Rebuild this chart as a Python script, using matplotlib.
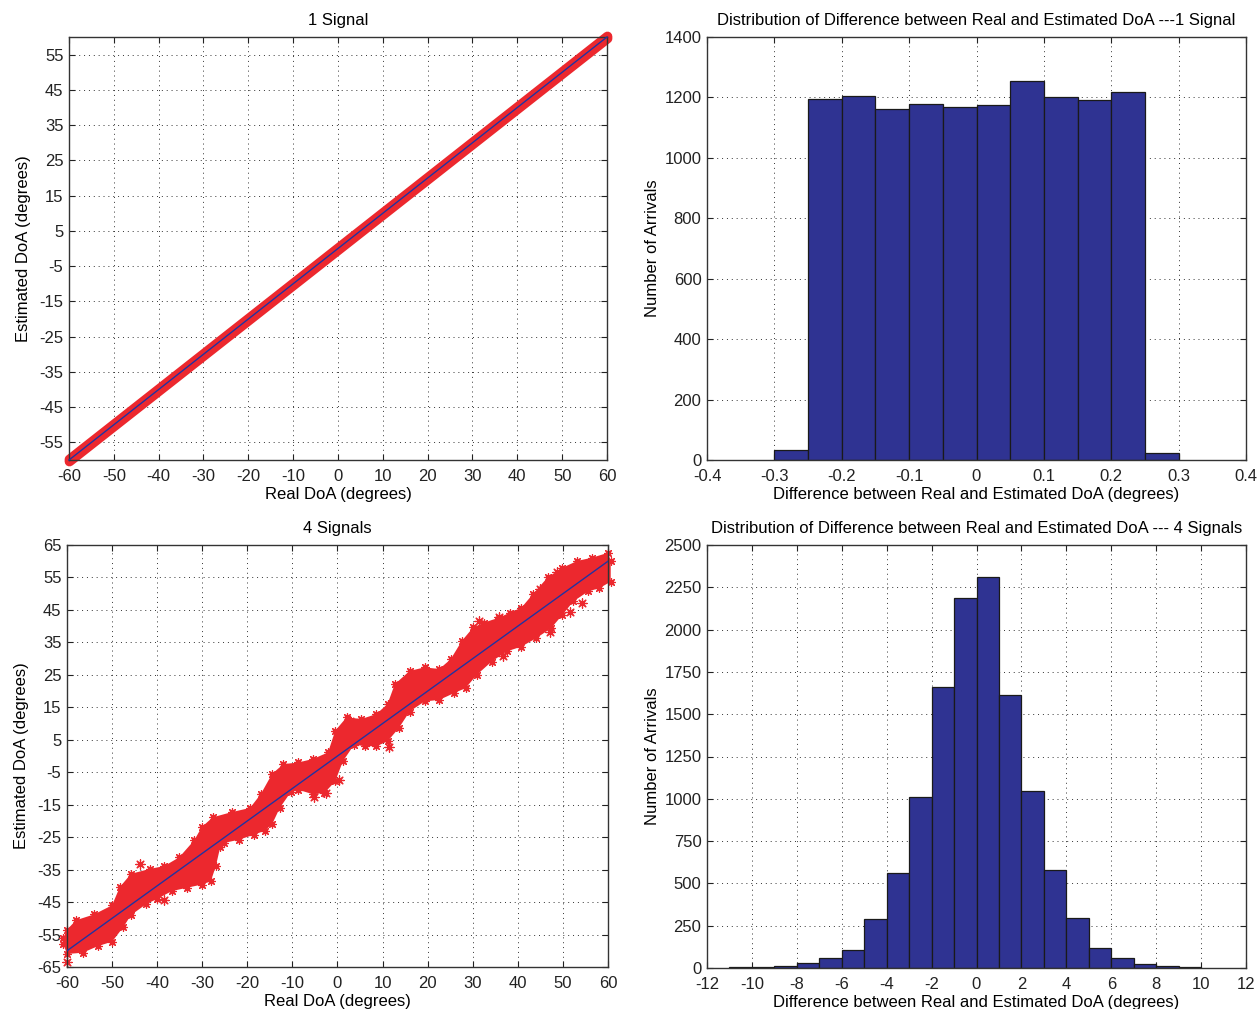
import numpy as np
import matplotlib
matplotlib.use("Agg")
import matplotlib.pyplot as plt

plt.rcParams['font.family'] = ['Liberation Sans', 'DejaVu Sans']
plt.rcParams['axes.unicode_minus'] = False

# ---------------- data ----------------
# 1 signal: real vs estimated DoA (band is very tight along y = x)
real_doa_1 = [-60, 60]
est_doa_1 = [-60, 60]
band_half_width_1 = 0.3

# 4 signals: envelope of the scatter cloud
upper_x_4 = [-60.8, -60, -58, -54, -50, -48.3, -45.8, -41.7, -38.4, -35.1, -31.8, -30.1,
             -27.7, -23.5, -19.4, -17, -14.5, -12, -8.7, -5.4, -2.1, -0.5, 2, 5.3, 8.6,
             11.1, 12.7, 16, 19.3, 22.6, 25.1, 27.6, 30.1, 32.5, 35.8, 38.3, 40.8, 43.3,
             46.6, 49.9, 53.2, 56.5, 60, 60.6]
upper_y_4 = [-56, -53.5, -50.6, -48.8, -46, -40.4, -36.3, -34.8, -33.9, -31.2, -26, -21.9,
             -18.9, -17.3, -16, -11.7, -5.5, -2.5, -2.0, -0.9, 1.1, 7.8, 11.9, 11.4, 12.9,
             16, 22.1, 26.2, 27.3, 26.8, 29.8, 35.5, 39.6, 41.1, 42.6, 44.2, 45.7, 49.8,
             55, 58, 60.1, 61.1, 62.6, 60]
lower_x_4 = [-60.8, -60, -56.5, -53.2, -50, -47.5, -45.8, -42.5, -40, -36.7, -33.4, -30.1,
             -28.1, -27, -26, -25.2, -21.9, -18.6, -16.1, -14.5, -12.8, -10.3, -8.7, -5.4,
             -2.9, -0.5, 1.2, 3.7, 6.1, 8.6, 11.1, 13.6, 16, 19.3, 22.6, 25.9, 28.4, 30.9,
             34.2, 37.5, 40.8, 44.1, 47.4, 49.9, 52.3, 55.6, 58.1, 60.6]
lower_y_4 = [-58, -61, -60.6, -58.6, -57.2, -52.7, -49, -45.7, -44, -41.6, -40.6, -39.6,
             -38.6, -34, -28, -26.8, -25.8, -24.3, -23, -21, -16, -11, -10.4, -11.8,
             -11.4, -7.8, -1.6, 3.5, 3.0, 3.0, 4.5, 8.6, 13.7, 16.8, 17.3, 19.4, 20.9, 25,
             29.1, 32.2, 33.7, 36.3, 39.4, 43.5, 47.6, 50.7, 51.7, 53.7]
outlier_x_4 = [-43.75, -38.4, -60, 11.5, 54.2, 51.5, 47.2, 31.3, 35.8, 36.7, 48.6, 44.9,
               -5.2, -2.5, 2.8, 0.4]
outlier_y_4 = [-33.2, -44.3, -63.5, 2.7, 47, 44.5, 38.3, 41.6, 42.9, 30.9, 56.8, 51.4,
               -12.5, -11.4, 10.9, -7.4]
ideal_x = [-60, 60]
ideal_y = [-60, 60]

# Histograms
hist1_edges = [-0.3, -0.25, -0.2, -0.15, -0.1, -0.05, 0.0, 0.05, 0.1, 0.15, 0.2, 0.25, 0.3]
hist1_counts = [33, 1196, 1204, 1163, 1178, 1168, 1175, 1256, 1200, 1190, 1217, 24]

hist4_edges = [-11, -10, -9, -8, -7, -6, -5, -4, -3, -2, -1, 0, 1, 2, 3, 4, 5, 6, 7, 8, 9, 10]
hist4_counts = [3, 3, 10, 32, 61, 108, 288, 562, 1011, 1660, 2188, 2313, 1613, 1045, 582,
                296, 118, 57, 26, 10, 4]

# ---------------- style ----------------
RED = '#EC282E'
BLUE = '#2233A0'
BAR = '#2F3392'
FS = 12

W, H = 1260, 1009
fig = plt.figure(figsize=(W / 100, H / 100), dpi=100)

def pos(l, t, r, b):
    return [l / W, 1 - b / H, (r - l) / W, (b - t) / H]

ax1 = fig.add_axes(pos(69, 37, 607, 460))
ax2 = fig.add_axes(pos(707, 37, 1246, 460))
ax3 = fig.add_axes(pos(67, 545, 608, 967))
ax4 = fig.add_axes(pos(707, 545, 1246, 968))

def style(ax):
    ax.set_axisbelow(True)
    ax.grid(True, linestyle=(0, (1, 4)), color='#333333', linewidth=0.7)
    ax.tick_params(direction='in', length=4, width=0.8, top=True, right=True,
                   labelsize=FS, colors='#222222')
    ax.tick_params(axis='x', pad=6.5)
    ax.tick_params(axis='y', pad=4)
    for s in ax.spines.values():
        s.set_linewidth(1.0)
        s.set_color('#333333')

# ---- top-left: 1 signal ----
r1 = np.array(real_doa_1, dtype=float)
e1 = np.array(est_doa_1, dtype=float)
ax1.fill_between(r1, e1 - band_half_width_1, e1 + band_half_width_1, color=RED,
                 edgecolor=RED, linewidth=7.0, joinstyle='round', capstyle='round',
                 clip_on=False, zorder=2)
ax1.plot(ideal_x, ideal_y, color=BLUE, linewidth=1.0, zorder=3, clip_on=False)
ax1.set_xlim(-60, 60)
ax1.set_ylim(-60, 60)
ax1.set_xticks(np.arange(-60, 61, 10))
ax1.set_yticks(np.arange(-55, 56, 10))
ax1.set_title('1 Signal', fontsize=FS, pad=9)
ax1.set_xlabel('Real DoA (degrees)', fontsize=FS, labelpad=2)
ax1.set_ylabel('Estimated DoA (degrees)', fontsize=FS, labelpad=6)
style(ax1)

# ---- top-right: histogram 1 signal ----
ed1 = np.array(hist1_edges)
ax2.bar(ed1[:-1], hist1_counts, width=np.diff(ed1), align='edge', color=BAR,
        edgecolor='#1a1a1a', linewidth=0.9, zorder=2)
ax2.set_xlim(-0.4, 0.4)
ax2.set_ylim(0, 1400)
ax2.set_xticks(np.round(np.arange(-0.4, 0.41, 0.1), 1))
ax2.set_xticklabels(['-0.4', '-0.3', '-0.2', '-0.1', '0', '0.1', '0.2', '0.3', '0.4'])
ax2.set_yticks(np.arange(0, 1401, 200))
ax2.set_title('Distribution of Difference between Real and Estimated DoA ---1 Signal',
              fontsize=FS, pad=9)
ax2.set_xlabel('Difference between Real and Estimated DoA (degrees)', fontsize=FS, labelpad=2)
ax2.set_ylabel('Number of Arrivals', fontsize=FS, labelpad=3)
style(ax2)

# ---- bottom-left: 4 signals ----
poly_x = list(upper_x_4) + list(lower_x_4[::-1])
poly_y = list(upper_y_4) + list(lower_y_4[::-1])
ax3.fill(poly_x, poly_y, color=RED, linewidth=0, zorder=2, clip_on=False)
ax3.scatter(upper_x_4 + lower_x_4, upper_y_4 + lower_y_4, marker=(8, 2, 0), s=30,
            color=RED, linewidths=0.9, zorder=2, clip_on=False)
ax3.scatter(outlier_x_4, outlier_y_4, marker=(8, 2, 0), s=45, color=RED,
            linewidths=0.9, zorder=2, clip_on=False)
ax3.plot(ideal_x, ideal_y, color=BLUE, linewidth=1.0, zorder=3)
ax3.set_xlim(-60, 60)
ax3.set_ylim(-65, 65)
ax3.set_xticks(np.arange(-60, 61, 10))
ax3.set_yticks(np.arange(-65, 66, 10))
ax3.set_title('4 Signals', fontsize=FS, pad=9)
ax3.set_xlabel('Real DoA (degrees)', fontsize=FS, labelpad=2)
ax3.set_ylabel('Estimated DoA (degrees)', fontsize=FS, labelpad=6)
style(ax3)

# ---- bottom-right: histogram 4 signals ----
ed4 = np.array(hist4_edges, dtype=float)
ax4.bar(ed4[:-1], hist4_counts, width=np.diff(ed4), align='edge', color=BAR,
        edgecolor='#1a1a1a', linewidth=0.9, zorder=2)
ax4.set_xlim(-12, 12)
ax4.set_ylim(0, 2500)
ax4.set_xticks(np.arange(-12, 13, 2))
ax4.set_yticks(np.arange(0, 2501, 250))
ax4.set_title('Distribution of Difference between Real and Estimated DoA --- 4 Signals',
              fontsize=FS, pad=9)
ax4.set_xlabel('Difference between Real and Estimated DoA (degrees)', fontsize=FS, labelpad=2)
ax4.set_ylabel('Number of Arrivals', fontsize=FS, labelpad=3)
style(ax4)

fig.savefig('out.png', dpi=100)
